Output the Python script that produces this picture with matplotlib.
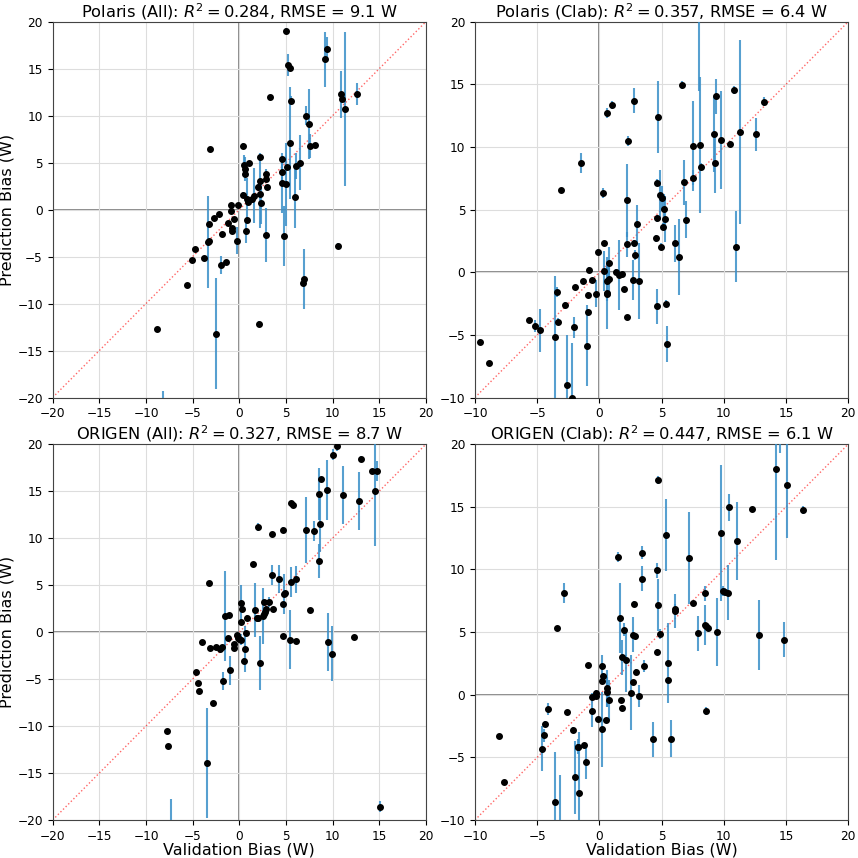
import matplotlib
matplotlib.use('Agg')
import matplotlib.pyplot as plt

# Polaris (All)
pa_x = [5.0, 9.2, 9.36, 5.25, 5.4, 3.3, 10.9, 11.0, 11.3, 12.6, -3.1, 5.5, 5.4, 7.1, 7.5, 7.6, 8.1,
        0.36, 0.5, 0.6, 0.6, 1.0, 2.25, 4.6, 4.6, 5.1, 6.1, 6.5, 2.9, 2.85, 3.0, 2.2, 2.0, 2.2, 1.6,
        1.4, 2.3, 4.6, 5.0, 6.0, 0.43, 0.8, 0.9, -0.9, -0.1, -0.9, -2.75, -2.2, -3.3, -1.2, -0.6,
        -0.8, -0.8, -1.9, 0.8, 0.7, 2.85, 4.8, -0.2, -3.4, -3.3, -4.8, -5.1, -3.8, -2.0, -1.46,
        -5.6, -8.85, -2.5, 2.1, 6.8, 6.9, 10.6, -8.2]
pa_y = [19.0, 16.0, 17.1, 15.4, 15.1, 12.0, 12.3, 11.8, 10.7, 12.3, 6.5, 11.6, 7.1, 10.0, 9.1, 6.8, 6.9,
        6.75, 4.8, 4.3, 3.8, 5.0, 5.6, 5.4, 4.0, 4.5, 4.65, 5.0, 3.8, 3.3, 2.4, 3.0, 2.4, 1.7, 1.5,
        1.1, 0.7, 2.8, 2.7, 1.3, 1.6, 1.1, 0.8, 0.5, 0.5, -0.2, -0.85, -0.5, -1.5, -1.4, -1.0,
        -2.0, -2.25, -2.6, -1.1, -2.3, -2.7, -2.8, -3.3, -3.45, -3.3, -4.2, -5.35, -5.2, -5.9, -5.6,
        -8.0, -12.7, -13.2, -12.2, -7.8, -7.4, -3.9, -23.0]
pa_e = [0.3, 2.9, 1.3, 1.2, 0.3, 0.2, 2.5, 0.3, 8.2, 1.2, 0.2, 0.5, 6.0, 1.0, 3.7, 1.3, 0.2,
        0.3, 1.0, 1.3, 0.2, 0.2, 0.4, 0.2, 1.3, 0.2, 1.4, 2.9, 0.5, 0.3, 0.2, 0.3, 0.3, 3.7, 2.9,
        0.3, 2.2, 3.2, 4.4, 3.3, 0.3, 2.3, 0.3, 0.2, 0.2, 0.2, 0.2, 0.2, 0.3, 0.2, 0.2,
        0.3, 0.3, 0.2, 0.3, 1.3, 2.9, 3.2, 1.4, 4.9, 0.2, 0.2, 0.2, 0.2, 1.0, 0.2,
        0.2, 0.2, 5.9, 0.3, 0.2, 3.2, 0.3, 3.7]

# Polaris (Clab)
pc_x = [-3.1, -1.5, 0.3, 0.6, 1.0, 2.8, 2.3, 2.2, 4.6, 4.75, 4.9, 5.05, 5.2, 4.6, 5.3, 6.65, 6.8,
        7.5, 7.55, 8.1, 8.0, 8.2, 9.25, 9.3, 9.35, 9.8, 10.5, 10.85, 11.3, 12.6, 13.2, 7.0, 5.1,
        3.0, 4.55, 4.95, 6.05, 6.4, 11.0, 2.8, 2.25, 2.85, 0.4, -0.1, 0.8, -0.8, 0.4, 1.35, 1.6,
        1.8, 0.75, 0.65, -0.6, -1.3, -1.95, 2.7, 3.2, 2.0, 0.6, 0.6, -0.25, -0.95, -3.4, -2.8,
        -0.9, 2.25, 4.6, 5.35, -3.3, -2.05, -5.65, -5.15, -4.8, -3.55, -1.0, -9.6, -8.9, 5.45,
        -2.6, -2.2]
pc_y = [6.6, 8.75, 6.35, 12.7, 13.35, 13.7, 10.45, 5.75, 7.15, 12.4, 6.2, 5.9, 5.05, 4.3, 4.25, 14.95, 7.2,
        10.05, 7.55, 10.15, 21.5, 8.4, 11.0, 8.75, 14.05, 10.55, 10.25, 14.55, 11.2, 11.0, 13.6, 4.2, 3.65,
        3.85, 2.7, 2.05, 2.3, 1.2, 2.05, 2.3, 2.25, 1.35, 2.3, 1.65, 0.7, 0.2, 0.1, 0.05, -0.2,
        -0.15, -0.5, -0.7, -0.65, -0.7, -1.2, -0.65, -0.7, -1.35, -1.65, -1.75, -1.7, -1.8, -1.55, -2.65,
        -3.2, -3.6, -2.7, -2.5, -3.95, -4.4, -3.85, -4.3, -4.65, -5.2, -5.85, -5.55, -7.25, -5.75,
        -9.0, -10.0]
pc_e = [0.1, 0.8, 0.4, 0.4, 0.3, 1.0, 0.4, 2.9, 0.3, 2.9, 2.0, 1.0, 1.2, 0.3, 1.8, 0.3, 1.8,
        3.6, 0.6, 5.4, 7.0, 0.3, 3.0, 2.4, 1.4, 3.9, 0.2, 0.3, 7.35, 1.35, 0.35, 1.45, 0.3,
        1.5, 0.3, 0.3, 1.5, 3.05, 2.85, 0.3, 1.0, 0.4, 0.2, 0.2, 1.3, 0.2, 1.6, 0.2, 2.8,
        0.2, 1.5, 1.6, 0.2, 0.2, 0.2, 1.6, 3.0, 0.2, 2.9, 0.3, 1.1, 0.2, 0.4, 0.3,
        0.3, 0.2, 1.4, 0.3, 0.3, 0.85, 0.2, 0.5, 1.75, 4.9, 3.25, 0.2, 0.2, 1.45,
        4.0, 4.35]

# ORIGEN (All)
oa_x = [-3.3, -1.5, -1.15, 0.2, 0.25, 0.2, 0.8, 0.7, 1.45, 1.7, 1.85, 2.0, 2.0, 2.55, 2.7, 2.8, 2.85,
        2.7, 3.2, 3.65, 3.5, 3.5, 4.3, 4.7, 4.8, 4.9, 4.7, 5.55, 5.8, 5.5, 6.1, 7.2, 8.0, 7.6, 8.6,
        8.5, 8.75, 8.5, 9.4, 10.0, 10.5, 11.1, 13.0, 12.85, 14.2, 14.8, 14.55, -1.25, -0.2, -0.1,
        0.0, 0.2, -0.6, -0.6, 0.65, 0.55, -1.0, 2.2, -4.05, -3.1, -2.55, -2.1, -1.85, -4.65, -4.4,
        -4.3, -1.8, -2.85, -7.8, -7.65, -3.45, 15.1, -7.3, 4.7, 5.4, 6.05, 9.55, 9.9, 12.3]
oa_y = [5.25, 1.7, 1.85, 3.1, 2.5, 1.05, 1.5, -0.05, 7.25, 2.35, 1.5, 1.45, 11.2, 1.7, 1.95, 2.1, 2.5,
        3.2, 3.2, 2.5, 6.1, 10.45, 5.65, 10.9, 4.05, 4.2, 2.95, 13.7, 13.5, 5.3, 5.6, 10.85, 10.75, 2.35, 11.55,
        14.7, 16.25, 7.55, 15.15, 18.9, 19.85, 14.6, 18.45, 13.95, 17.15, 17.15, 15.0, -0.6, -0.35, -0.6,
        -0.7, -0.8, -1.3, -1.7, -1.8, -3.1, -4.05, -3.3, -1.1, -1.65, -1.6, -1.85, -1.6, -4.3, -5.4,
        -6.3, -5.2, -7.5, -10.55, -12.15, -13.9, -18.6, -22.0, -0.45, -0.8, -0.95, -1.05, -2.3, -0.5]
oa_e = [0.2, 4.75, 0.2, 1.9, 0.3, 0.3, 0.3, 0.3, 0.2, 2.9, 0.3, 0.3, 0.4, 2.95, 0.3, 0.3, 0.3,
        0.3, 0.5, 0.2, 1.05, 0.2, 1.5, 0.3, 2.15, 0.3, 0.3, 0.3, 0.2, 1.6, 1.4, 3.5, 1.1, 0.2, 3.0,
        2.8, 0.3, 1.8, 3.2, 0.6, 0.6, 3.05, 0.3, 3.1, 0.2, 1.1, 5.8, 0.2, 0.2, 0.2,
        0.2, 0.6, 0.2, 0.2, 2.45, 0.3, 1.55, 2.9, 0.3, 0.2, 0.2, 0.2, 0.2, 0.2, 0.2,
        0.2, 1.0, 0.2, 0.2, 0.2, 5.85, 0.6, 4.2, 0.2, 3.1, 0.2, 3.05, 2.95, 0.2]

# ORIGEN (Clab)
oc_x = [-3.4, -2.85, 1.5, 1.65, 1.95, 2.75, 2.7, 2.85, 3.45, 3.45, 4.7, 4.65, 4.7, 4.9, 5.35, 6.1, 6.1,
        7.2, 7.5, 7.95, 8.5, 8.5, 8.6, 8.7, 9.45, 9.8, 9.95, 10.1, 10.35, 10.4, 11.05, 12.25, 12.8,
        14.2, 14.5, 15.1, 16.4, 14.8, 1.8, 2.1, 4.65, 3.6, 2.95, 2.7, 5.5, 5.5, -0.95, 0.2, 0.25,
        0.2, 0.6, 0.6, 2.5, -0.25, -0.25, -0.6, 0.8, 1.75, 1.85, 3.15, -0.6, -0.1, 0.5, 0.2,
        -4.1, -2.6, -4.4, -4.45, -4.6, -2.15, -1.75, -1.7, -1.25, -1.1, -1.95, -1.6, -3.55, -3.15,
        -8.05, -7.7, 4.3, 5.75, 8.6]
oc_y = [5.3, 8.1, 11.0, 6.15, 5.2, 7.25, 4.8, 4.65, 11.35, 9.25, 17.15, 9.95, 7.15, 4.85, 12.75, 6.85, 6.7,
        10.9, 7.3, 4.9, 8.1, 5.6, 5.45, 5.3, 5.0, 12.9, 8.3, 8.2, 8.15, 14.95, 12.25, 14.8, 4.75,
        18.05, 21.5, 16.75, 14.75, 4.4, 3.0, 2.75, 3.45, 2.3, 1.85, 1.0, 2.55, 1.15, 2.35, 2.3, 1.5,
        1.1, 0.5, 0.25, 0.15, 0.15, -0.1, -0.2, -0.45, -0.45, -1.05, -0.1, -1.3, -1.95, -2.05, -2.75,
        -1.15, -1.4, -2.3, -3.25, -4.3, -2.8, -4.15, -4.15, -4.05, -5.35, -6.6, -7.85, -8.6, -10.6,
        -3.3, -7.0, -3.55, -3.5, -1.3]
oc_e = [0.1, 0.8, 0.4, 2.8, 0.5, 0.2, 1.4, 0.2, 0.5, 1.0, 0.3, 0.6, 2.05, 0.4, 2.9, 0.4, 1.35,
        3.65, 0.2, 1.4, 0.6, 1.6, 0.3, 0.2, 2.7, 5.4, 0.4, 0.3, 2.2, 1.05, 3.1, 0.2, 2.8,
        7.3, 2.2, 4.2, 0.3, 1.4, 1.4, 2.5, 0.2, 0.5, 0.2, 0.2, 3.2, 0.2, 0.2, 0.9, 0.2,
        0.2, 1.5, 1.2, 3.0, 0.2, 0.2, 0.3, 1.6, 0.2, 0.2, 0.9, 1.3, 0.2, 0.2, 3.0,
        0.5, 0.2, 0.2, 0.5, 1.8, 0.2, 0.6, 0.2, 0.2, 1.4, 2.9, 4.9, 4.0, 4.2,
        0.1, 0.1, 1.4, 1.45, 0.3]

titles = ['Polaris (All): $R^2 = 0.284$, RMSE = 9.1 W',
          'Polaris (Clab): $R^2 = 0.357$, RMSE = 6.4 W',
          'ORIGEN (All): $R^2 = 0.327$, RMSE = 8.7 W',
          'ORIGEN (Clab): $R^2 = 0.447$, RMSE = 6.1 W']
lims = [(-20, 20), (-10, 20), (-20, 20), (-10, 20)]
data = [(pa_x, pa_y, pa_e), (pc_x, pc_y, pc_e), (oa_x, oa_y, oa_e), (oc_x, oc_y, oc_e)]

fig = plt.figure(figsize=(8.58, 8.58), dpi=100)
boxes = [[0.0614, 0.5367, 0.435, 0.438], [0.5536, 0.5367, 0.435, 0.438],
         [0.0614, 0.0443, 0.435, 0.438], [0.5536, 0.0443, 0.435, 0.438]]

for i, (box, (x, y, e), t, lim) in enumerate(zip(boxes, data, titles, lims)):
    ax = fig.add_axes(box)
    ax.grid(True, color='#dddddd', lw=0.8, zorder=0)
    ax.axhline(0, color='#777777', lw=1.2, zorder=1)
    ax.axvline(0, color='#777777', lw=1.2, zorder=1)
    ax.plot(lim, lim, color='red', ls=':', lw=1, alpha=0.6, zorder=2)
    ax.errorbar(x, y, yerr=e, fmt='none', ecolor='#3a8fc8', elinewidth=1.5, alpha=0.85, zorder=3)
    ax.plot(x, y, 'o', color='black', ms=4, zorder=4)
    ax.set_xlim(lim)
    ax.set_ylim(lim)
    ax.set_title(t, fontsize=11.7, pad=3)
    ax.tick_params(labelsize=8.7)
    for s in ax.spines.values():
        s.set_color('#444444')
    if i % 2 == 0:
        ax.set_ylabel('Prediction Bias (W)', fontsize=11.5)
        ax.yaxis.set_label_coords(-0.102, 0.5)
    if i >= 2:
        ax.set_xlabel('Validation Bias (W)', fontsize=11.5, labelpad=0)

fig.savefig('out.png', dpi=100)
